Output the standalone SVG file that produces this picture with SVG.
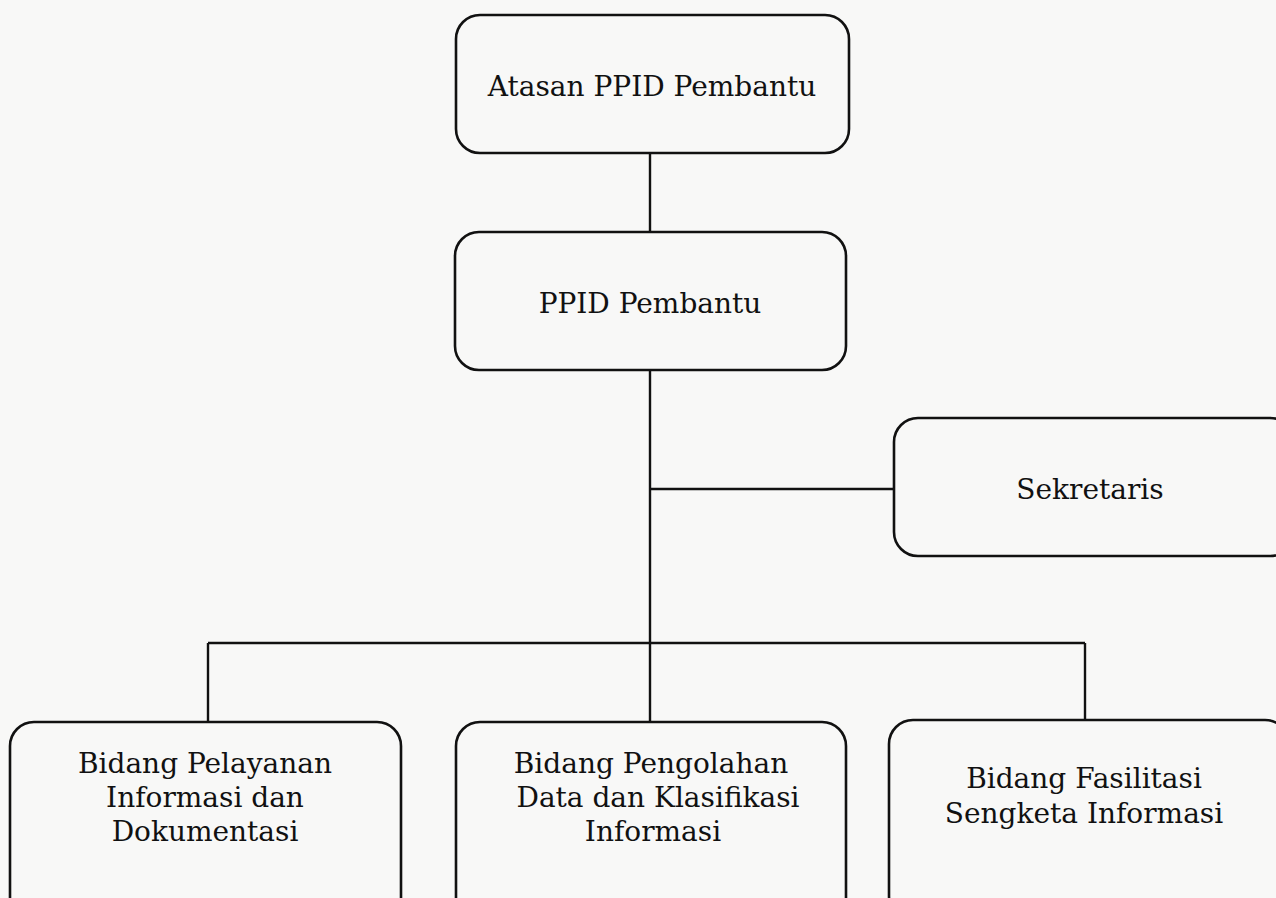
<svg xmlns="http://www.w3.org/2000/svg" width="1276" height="898" viewBox="0 0 1276 898">
<style>
.box{fill:none;stroke:#111;stroke-width:2.6}
.ln{fill:none;stroke:#111;stroke-width:2.4}
text{font-family:"DejaVu Serif","Liberation Serif",serif;font-size:28px;fill:#111;text-anchor:middle}
</style>
<rect width="1276" height="898" fill="#f8f8f7"/>
<g id="connectors">
<path class="ln" d="M650 153 V232"/>
<path class="ln" d="M650 370 V722"/>
<path class="ln" d="M650 489 H894"/>
<path class="ln" d="M208 643 H1085"/>
<path class="ln" d="M208 643 V722"/>
<path class="ln" d="M1085 643 V720"/>
</g>
<g id="atasan">
<rect class="box" x="456" y="15" width="393" height="138" rx="24"/>
<text x="652" y="96">Atasan PPID Pembantu</text>
</g>
<g id="ppid">
<rect class="box" x="455" y="232" width="391" height="138" rx="24"/>
<text x="650" y="313">PPID Pembantu</text>
</g>
<g id="sekretaris">
<rect class="box" x="894" y="418" width="400" height="138" rx="24"/>
<text x="1090" y="499">Sekretaris</text>
</g>
<g id="pelayanan">
<rect class="box" x="10" y="722" width="391" height="200" rx="24"/>
<text x="205" y="773">Bidang Pelayanan</text>
<text x="205" y="807">Informasi dan</text>
<text x="205" y="841">Dokumentasi</text>
</g>
<g id="pengolahan">
<rect class="box" x="456" y="722" width="390" height="200" rx="24"/>
<text x="651" y="773">Bidang Pengolahan</text>
<text x="658" y="807">Data dan Klasifikasi</text>
<text x="653" y="841">Informasi</text>
</g>
<g id="fasilitasi">
<rect class="box" x="889" y="720" width="400" height="200" rx="24"/>
<text x="1084" y="788">Bidang Fasilitasi</text>
<text x="1084" y="823">Sengketa Informasi</text>
</g>
</svg>
